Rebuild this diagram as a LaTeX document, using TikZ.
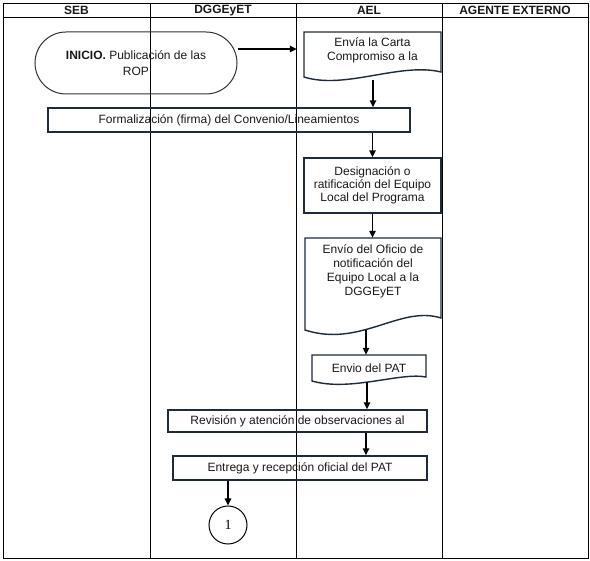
\documentclass[tikz,border=0pt]{standalone}
\usepackage{fontspec}
\setmainfont{Liberation Sans}
\newfontfamily\serifnum{Liberation Serif}
\usetikzlibrary{arrows.meta}
\definecolor{boxc}{RGB}{30,44,58}
\definecolor{txtc}{RGB}{25,25,25}
\begin{document}
\begin{tikzpicture}[x=1pt,y=-1pt,
  gridline/.style={draw=black,line width=0.8pt},
  hdr/.style={font=\bfseries\fontsize{12}{14}\selectfont,text=txtc,inner sep=0pt},
  txt/.style={font=\fontsize{12}{14}\selectfont,text=txtc,align=center,inner sep=0pt},
  boxl/.style={draw=boxc,line width=1.4pt},
  stepbox/.style={txt,boxl,rectangle},
  termbox/.style={txt,draw=black!80,line width=1pt,rounded corners=31pt},
  arr/.style={draw=black,line width=1.5pt,-{Triangle[length=7pt,width=6.5pt]}},
  conn/.style={circle,draw=black,line width=1pt,minimum size=38pt,inner sep=0pt,
    font=\serifnum\fontsize{14}{16}\selectfont}]
\useasboundingbox (0,0) rectangle (590,561);
\fill[white] (0,0) rectangle (590,561);
% swimlane grid
\draw[gridline] (3,3) rectangle (588,558);
\draw[gridline] (3,17) -- (588,17);
\foreach \x in {150,296,442} \draw[gridline] (\x,3) -- (\x,558);
\node[hdr] (h1) at (76.5,10.5) {SEB};
\node[hdr] (h2) at (223,10.5) {DGGEyET};
\node[hdr] (h3) at (369,10.5) {AEL};
\node[hdr] (h4) at (515,10.5) {AGENTE EXTERNO};
% start terminal
\node[termbox,minimum width=202pt,minimum height=62pt,font=\fontsize{12}{16}\selectfont]
  (term) at (136,63) {\textbf{INICIO.} Publicación de las\\ROP};
% document 1
\draw[boxl] (304,32) -- (441,32) -- (441,72) .. controls (400,62) and (345,90) .. (304,77) -- cycle;
\node[txt,minimum width=137pt,minimum height=37pt] (doc1) at (372.5,50.5)
  {Envía la Carta\\Compromiso a la};
\coordinate (ts) at (238,49);
\draw[arr,shorten >=7pt] (ts) -- (ts -| doc1.west);
% formalizacion
\node[stepbox,minimum width=362pt,minimum height=24pt] (form) at (229,120)
  {Formalización (firma) del Convenio/Lineamientos};
\coordinate (d1b) at (373,80);
\draw[arr] (d1b) -- (d1b |- form.north);
% designacion
\node[stepbox,minimum width=137pt,minimum height=55pt,font=\fontsize{12}{13.2}\selectfont]
  (desig) at (372.5,185.5) {Designación o\\ratificación del Equipo\\Local del Programa};
\draw[arr] (desig.north |- form.south) -- (desig.north);
% document 2
\draw[boxl] (305,238) -- (441,238) -- (441,318) .. controls (400,305) and (360,348) .. (305,330) -- cycle;
\node[txt,minimum width=136pt,minimum height=66pt,font=\fontsize{12}{14}\selectfont]
  (doc2) at (373,271) {Envío del Oficio de\\notificación del\\Equipo Local a la\\DGGEyET};
\draw[arr] (desig.south) -- (desig.south |- doc2.north);
% document 3 (PAT)
\draw[boxl] (312,355) -- (426,355) -- (426,377) .. controls (400,372) and (350,392) .. (312,381) -- cycle;
\node[txt,minimum width=114pt,minimum height=26pt] (pat) at (369,368) {Envio del PAT};
\coordinate (d2b) at (366,330);
\draw[arr] (d2b) -- (d2b |- pat.north);
% revision
\node[stepbox,minimum width=259pt,minimum height=22pt] (rev) at (297.5,421)
  {Revisión y atención de observaciones al};
\coordinate (pb) at (367,382);
\draw[arr] (pb) -- (pb |- rev.north);
% entrega
\node[stepbox,minimum width=254pt,minimum height=24pt] (ent) at (300,468)
  {Entrega y recepción oficial del PAT};
\draw[arr] ([xshift=68.5pt]rev.south) -- ([xshift=68.5pt]rev.south |- ent.north);
% connector
\node[conn] (con) at (228,525) {1};
\draw[arr] (con.north |- ent.south) -- (con.north);
\end{tikzpicture}
\end{document}
